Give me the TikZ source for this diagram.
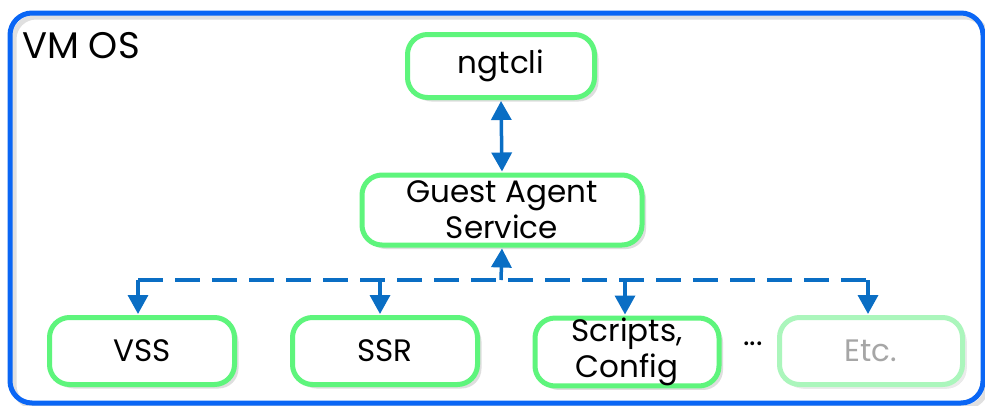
\documentclass[tikz,border=0pt]{standalone}
\usepackage{fontspec}
\setmainfont{Poppins}
\usetikzlibrary{arrows.meta,shadows}
\definecolor{gbox}{HTML}{5EF57C}
\definecolor{gboxlt}{HTML}{ABF6BC}
\definecolor{outerblue}{HTML}{0A66F5}
\definecolor{arrblue}{HTML}{0A6EC4}
\definecolor{etcgray}{HTML}{A6A6A6}
\begin{document}
\begin{tikzpicture}[x=1pt,y=-1pt,
  shad/.style={drop shadow={shadow xshift=4pt,shadow yshift=-4pt,fill=black!13,opacity=1}},
  gbx/.style={draw=gbox,line width=5pt,rounded corners=20pt,fill=white,align=center,
    font=\fontsize{31}{36}\selectfont,inner sep=0pt,shad},
  conn/.style={draw=arrblue,line width=3.5pt,-{Triangle[width=20pt,length=19pt]}},
  bus/.style={draw=arrblue,line width=3.5pt,dash pattern=on 25pt off 12pt}]
\useasboundingbox (0,0) rectangle (985,405);
\fill[white] (0,0) rectangle (985,405);
% outer box
\draw[draw=black!12,line width=5pt,rounded corners=22pt] (14,17) rectangle (987,407);
\draw[draw=outerblue,line width=5pt,rounded corners=22pt] (10,13) rectangle (983,403);
\node[anchor=west,font=\fontsize{37}{40}\selectfont,inner sep=0pt] (vmos) at (22,46) {VM OS};
% boxes
\node[gbx,minimum width=187pt,minimum height=63pt] (ngt) at (501,66) {ngtcli};
\node[gbx,minimum width=280pt,minimum height=70pt] (gas) at (502,210) {Guest Agent\\Service};
\node[gbx,minimum width=185pt,minimum height=67pt] (vss) at (142,351) {VSS};
\node[gbx,minimum width=185pt,minimum height=67pt] (ssr) at (385,351) {SSR};
\node[gbx,minimum width=184pt,minimum height=67pt] (scr) at (627,352) {Scripts,\\Config};
\node[gbx,draw=gboxlt,text=etcgray,minimum width=183pt,minimum height=67pt,
  drop shadow={shadow xshift=4pt,shadow yshift=-4pt,fill=black!8,opacity=1}] (etc) at (871,351) {Etc.};
\node[font=\fontsize{31}{36}\selectfont,inner sep=0pt] (dots) at (753,344) {...};
% connectors
\draw[conn,{Triangle[width=20pt,length=19pt]}-{Triangle[width=20pt,length=19pt]},shorten <=1pt,shorten >=1pt] (ngt.south) -- (gas.north);
\coordinate (bc) at (501,280);
\coordinate (b1) at (138,280);
\coordinate (b2) at (380,280);
\coordinate (b3) at (625,280);
\coordinate (b4) at (868,280);
\draw[bus] (b1) -- (b4);
\draw[conn,shorten >=1pt] (bc) -- (gas.south);
\draw[conn,shorten >=1pt] (b1) -- (b1 |- vss.north);
\draw[conn,shorten >=1pt] (b2) -- (b2 |- ssr.north);
\draw[conn,shorten >=1pt] (b3) -- (b3 |- scr.north);
\draw[conn,shorten >=1pt] (b4) -- (b4 |- etc.north);
\end{tikzpicture}
\end{document}
